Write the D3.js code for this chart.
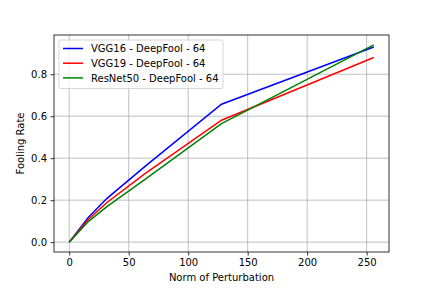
<!DOCTYPE html>
<html>
<head>
<meta charset="utf-8">
<script src="https://cdn.jsdelivr.net/npm/d3@7"></script>
<style>
  body { margin: 0; background: #fff; }
  svg { font-family: "DejaVu Sans", sans-serif; }
</style>
</head>
<body>
<svg width="432" height="288"></svg>
<script>
// perturbation norms and fooling rates
var norms = [0, 16, 32, 64, 128, 256];
var vgg16 = [0, 0.118, 0.21, 0.362, 0.657, 0.93];
var vgg19 = [0, 0.108, 0.19, 0.328, 0.581, 0.88];
var resnet50 = [0, 0.098, 0.17, 0.30, 0.565, 0.94];
var seriesNames = ["VGG16 - DeepFool - 64", "VGG19 - DeepFool - 64", "ResNet50 - DeepFool - 64"];
var xTicks = [0, 50, 100, 150, 200, 250];
var yTicks = [0, 0.2, 0.4, 0.6, 0.8];

var svg = d3.select("svg");
// plot area (window.top is taken, so own names)
var pLeft = 54, pRight = 389, pTop = 35, pBottom = 252;

var color = ["#0000ff", "#ff0000", "#008000"];
var series = [vgg16, vgg19, resnet50];

var x = d3.scaleLinear().domain([-12.8, 268.8]).range([pLeft, pRight]);
var y = d3.scaleLinear().domain([-0.047, 0.987]).range([pBottom, pTop]);

// grid
svg.append("g").selectAll("line")
    .data(xTicks).enter().append("line")
    .attr("x1", function(d) { return x(d); }).attr("x2", function(d) { return x(d); })
    .attr("y1", pTop).attr("y2", pBottom)
    .attr("stroke", "#b0b0b0").attr("stroke-width", 0.8);
svg.append("g").selectAll("line")
    .data(yTicks).enter().append("line")
    .attr("y1", function(d) { return y(d); }).attr("y2", function(d) { return y(d); })
    .attr("x1", pLeft).attr("x2", pRight)
    .attr("stroke", "#b0b0b0").attr("stroke-width", 0.8);

// axes
var xAxis = svg.append("g")
    .attr("transform", "translate(0," + pBottom + ")")
    .call(d3.axisBottom(x).tickValues(xTicks).tickSize(3.5).tickPadding(3.5).tickFormat(d3.format("d")));
var yAxis = svg.append("g")
    .attr("transform", "translate(" + pLeft + ",0)")
    .call(d3.axisLeft(y).tickValues(yTicks).tickSize(3.5).tickPadding(3.5).tickFormat(d3.format(".1f")));

[xAxis, yAxis].forEach(function(a) {
    a.select(".domain").remove();
    a.selectAll("text").attr("font-size", 10).attr("fill", "#000").attr("font-family", "DejaVu Sans");
    a.selectAll("line").attr("stroke", "#000").attr("stroke-width", 0.8);
});

// lines
var line = d3.line()
    .x(function(d, i) { return x(norms[i]); })
    .y(function(d) { return y(d); });

series.forEach(function(s, k) {
    svg.append("path")
       .attr("d", line(s))
       .attr("fill", "none")
       .attr("stroke", color[k])
       .attr("stroke-width", 1.5);
});

// frame
svg.append("rect")
   .attr("x", pLeft).attr("y", pTop)
   .attr("width", pRight - pLeft).attr("height", pBottom - pTop)
   .attr("fill", "none").attr("stroke", "#000").attr("stroke-width", 0.8);

// legend
var lg = svg.append("g");
lg.append("rect")
  .attr("x", 59).attr("y", 40).attr("width", 164).attr("height", 48.5)
  .attr("rx", 2).attr("fill", "#fff").attr("fill-opacity", 0.8)
  .attr("stroke", "#cccccc").attr("stroke-width", 0.8);
seriesNames.forEach(function(n, k) {
    var ly = 48.5 + k * 14.7;
    lg.append("line")
      .attr("x1", 63).attr("x2", 83).attr("y1", ly).attr("y2", ly)
      .attr("stroke", color[k]).attr("stroke-width", 1.5);
    lg.append("text")
      .attr("x", 91).attr("y", ly + 3.6)
      .attr("font-size", 10)
      .text(n);
});

// labels
svg.append("text")
   .attr("x", (pLeft + pRight) / 2).attr("y", 281)
   .attr("text-anchor", "middle").attr("font-size", 10)
   .text("Norm of Perturbation");

svg.append("text")
   .attr("transform", "translate(24," + ((pTop + pBottom) / 2) + ") rotate(-90)")
   .attr("text-anchor", "middle").attr("font-size", 10)
   .text("Fooling Rate");
</script>
</body>
</html>
